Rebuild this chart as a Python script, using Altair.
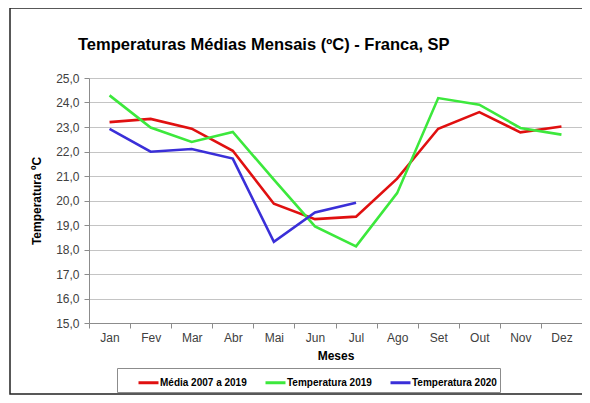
import altair as alt
import pandas as pd

months = ["Jan", "Fev", "Mar", "Abr", "Mai", "Jun", "Jul", "Ago", "Set", "Out", "Nov", "Dez"]
media = [23.2, 23.33, 22.93, 22.03, 19.87, 19.24, 19.34, 20.89, 22.93, 23.61, 22.78, 23.02]
t2019 = [24.29, 22.98, 22.39, 22.8, 20.85, 18.94, 18.13, 20.3, 24.18, 23.91, 22.96, 22.69]
t2020 = [22.92, 21.99, 22.1, 21.71, 18.31, 19.51, 19.91]

series_names = ["Média 2007 a 2019", "Temperatura 2019", "Temperatura 2020"]
series_colors = ["#e01010", "#3ce83c", "#3a2fd8"]

rows = []
for name, vals in zip(series_names, [media, t2019, t2020]):
    for m, v in zip(months, vals):
        rows.append({"Mês": m, "Série": name, "Temp": v})
df = pd.DataFrame(rows)
df_frame = pd.DataFrame({"k": [0]})

FONT = "Liberation Sans"

xscale = alt.Scale(type="band", domain=months, paddingInner=0, paddingOuter=0)

lines = alt.Chart(df).mark_line(strokeWidth=2.6).encode(
    x=alt.X("Mês:N", scale=xscale, sort=months,
            axis=alt.Axis(title="Meses", labelAngle=0, ticks=True, tickBand="extent",
                          tickSize=5, tickColor="#8c8c8c", grid=False,
                          domainColor="#8c8c8c", labelFontSize=12, labelColor="#404040",
                          labelPadding=4, titleFontSize=12, titleFontWeight="bold",
                          titleColor="black", titlePadding=7, labelFont=FONT, titleFont=FONT)),
    y=alt.Y("Temp:Q", scale=alt.Scale(domain=[15, 25], nice=False, zero=False),
            axis=alt.Axis(title="Temperatura ºC", values=list(range(15, 26)),
                          labelExpr="replace(format(datum.value, '.1f'), '.', ',')",
                          gridColor="#c4c4c4", gridWidth=1, domainColor="#8c8c8c",
                          tickColor="#8c8c8c", tickSize=5, labelPadding=5,
                          labelFontSize=12, labelColor="#404040",
                          titleFontSize=12, titleFontWeight="bold", titleColor="black",
                          titlePadding=12, labelFont=FONT, titleFont=FONT)),
    color=alt.Color("Série:N", scale=alt.Scale(domain=series_names, range=series_colors),
                    sort=series_names,
                    legend=alt.Legend(title=None, orient="none", legendX=28, legendY=290,
                                      direction="horizontal", symbolType="stroke",
                                      symbolSize=400, symbolStrokeWidth=3, symbolOffset=17,
                                      labelFontSize=10, labelFontWeight="bold", labelColor="black",
                                      labelFont=FONT, labelOffset=0, columnPadding=-4,
                                      padding=3, strokeColor="#8c8c8c", fillColor="white")),
)

frame = alt.Chart(df_frame).mark_rect(fill=None, stroke="#222222", strokeWidth=1.5).encode(
    x=alt.value(-79), x2=alt.value(560), y=alt.value(-70), y2=alt.value(316)
)

chart = alt.layer(frame, lines).properties(
    width=493, height=245,
    title=alt.TitleParams("Temperaturas Médias Mensais (ºC) - Franca, SP", anchor="start",
                          frame="group", dx=-11, dy=77, fontSize=16.5, font=FONT, fontWeight="bold",
                          color="black", offset=18, baseline="alphabetic"),
    autosize=alt.AutoSizeParams(type="none"),
    padding={"left": 81, "top": 70, "right": 0, "bottom": 72},
).configure_view(stroke=None)

chart.save("out.html", embed_options={"renderer": "svg", "actions": False})
